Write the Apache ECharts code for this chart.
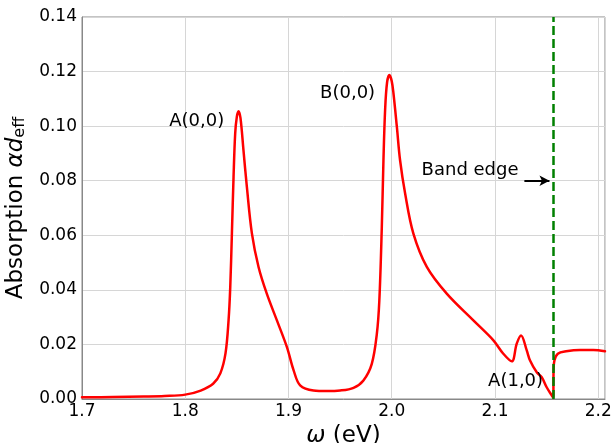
<!DOCTYPE html>
<html>
<head>
<meta charset="utf-8">
<script src="https://cdn.jsdelivr.net/npm/echarts@6/dist/echarts.min.js"></script>
<style>
  html, body { margin: 0; padding: 0; background: #fff; }
  #chart { width: 614px; height: 443px; }
</style>
</head>
<body>
<div id="chart"></div>
<script>
// ---- Data ----
const omega = [1.700, 1.730, 1.760, 1.780, 1.800, 1.815, 1.827, 1.834, 1.839, 1.842,
  1.8436, 1.8452, 1.8468, 1.8484, 1.8500, 1.8516, 1.8535, 1.8564, 1.8597, 1.8646,
  1.871, 1.879, 1.8888, 1.8985, 1.905, 1.9113, 1.9242, 1.937, 1.950, 1.963,
  1.9726, 1.9807, 1.9856, 1.988, 1.9904, 1.992, 1.9936, 1.9955, 1.9978, 2.0000,
  2.0017, 2.005, 2.0081, 2.013, 2.021, 2.034, 2.0533, 2.0791, 2.0985, 2.1081,
  2.1163, 2.1211, 2.1253, 2.1308, 2.134, 2.1405, 2.1453, 2.1501, 2.155, 2.1565,
  2.1568, 2.1576, 2.1609, 2.169, 2.1824, 2.1953, 2.2066];
const absorption = [0.0006, 0.0007, 0.0009, 0.0011, 0.0016, 0.0031, 0.0056, 0.0094, 0.0167, 0.029,
  0.041, 0.0607, 0.0814, 0.0974, 0.1035, 0.1055, 0.1030, 0.0912, 0.0777, 0.0606,
  0.0484, 0.0386, 0.0288, 0.019, 0.0105, 0.005, 0.0031, 0.0029, 0.0031, 0.0041,
  0.0068, 0.0129, 0.0239, 0.036, 0.063, 0.0875, 0.1059, 0.1160, 0.1187, 0.1165,
  0.112, 0.0997, 0.0875, 0.0753, 0.0606, 0.0484, 0.0386, 0.0288, 0.0215, 0.0166,
  0.0138, 0.0203, 0.0233, 0.0178, 0.0141, 0.0098, 0.008, 0.0043, 0.0013, 0.0004,
  0.0105, 0.0141, 0.0166, 0.0175, 0.018, 0.018, 0.0175];

const bandEdge = 2.1565;
const annotationTexts = ['A(0,0)', 'B(0,0)', 'Band edge', 'A(1,0)'];
const annotationX = [1.8111, 1.9573, 2.0759, 2.1200];
const annotationY = [0.1018, 0.1121, 0.0839, 0.0064];
const arrowFrom = [2.1285, 0.0800];
const arrowTo = [2.1528, 0.0800];

const xTicks = [1.7, 1.8, 1.9, 2.0, 2.1, 2.2];
const yTicks = [0.00, 0.02, 0.04, 0.06, 0.08, 0.10, 0.12, 0.14];

// ---- Build ----
const lineData = omega.map((x, i) => [x, absorption[i]]);

const FONT = 'DejaVu Sans';
const chart = echarts.init(document.getElementById('chart'), null, { renderer: 'canvas' });

chart.setOption({
  animation: false,
  backgroundColor: '#ffffff',
  textStyle: { fontFamily: FONT },
  grid: { left: 82, right: 9, top: 17, bottom: 44, containLabel: false,
          outerBoundsMode: 'none',
          show: true, borderColor: '#888', borderWidth: 1 },
  xAxis: {
    type: 'value',
    min: xTicks[0],
    max: 2.2066,
    interval: 0.1,
    name: '{i|ω} (eV)',
    nameLocation: 'middle',
    nameGap: 22,
    nameTextStyle: { fontFamily: FONT, fontSize: 23, color: '#000',
      rich: { i: { fontFamily: FONT, fontStyle: 'italic', fontSize: 23, color: '#000' } } },
    axisLine: { show: true, lineStyle: { color: '#888', width: 1 } },
    axisTick: { show: false },
    axisLabel: { fontFamily: FONT, fontSize: 17, color: '#000', margin: 4,
      formatter: v => v.toFixed(1) },
    splitLine: { show: true, lineStyle: { color: '#d6d6d6', width: 1 } }
  },
  yAxis: {
    type: 'value',
    min: yTicks[0],
    max: yTicks[yTicks.length - 1],
    interval: 0.02,
    name: '{n|Absorption }{i|αd}{s|eff}',
    nameLocation: 'middle',
    nameGap: 48,
    nameTextStyle: { fontFamily: FONT, fontSize: 23, color: '#000',
      rich: {
        n: { fontFamily: FONT, fontSize: 23, color: '#000' },
        i: { fontFamily: FONT, fontStyle: 'italic', fontSize: 23, color: '#000' },
        s: { fontFamily: FONT, fontSize: 16, color: '#000', padding: [8, 0, 0, 0] }
      } },
    axisLine: { show: true, lineStyle: { color: '#888', width: 1 } },
    axisTick: { show: false },
    axisLabel: { fontFamily: FONT, fontSize: 17, color: '#000', margin: 5,
      formatter: v => v.toFixed(2) },
    splitLine: { show: true, lineStyle: { color: '#d6d6d6', width: 1 } }
  },
  series: [
    {
      name: 'absorption',
      type: 'line',
      data: lineData,
      showSymbol: false,
      smooth: 0.35,
      lineStyle: { color: '#ff0000', width: 2.5, join: 'round', cap: 'round' },
      z: 3
    },
    {
      name: 'bandEdge',
      type: 'line',
      data: [],
      z: 5,
      markLine: {
        silent: true,
        symbol: ['none', 'none'],
        label: { show: false },
        lineStyle: { color: '#008000', width: 2.5, type: [9, 4] },
        data: [[{ coord: [bandEdge, yTicks[0]] }, { coord: [bandEdge, yTicks[yTicks.length - 1]] }]]
      }
    },
    {
      name: 'arrow',
      type: 'line',
      data: [],
      z: 6,
      markLine: {
        silent: true,
        symbol: ['none', 'arrow'],
        symbolSize: [8, 10],
        label: { show: false },
        lineStyle: { color: '#000', width: 2, type: 'solid' },
        data: [[{ coord: arrowFrom }, { coord: arrowTo }]]
      }
    }
  ]
});

// annotation texts placed at data coordinates through the chart's own scales
const texts = annotationTexts.map((t, i) => {
  const p = chart.convertToPixel({ gridIndex: 0 }, [annotationX[i], annotationY[i]]);
  return {
    type: 'text', x: p[0], y: p[1], z: 100,
    style: { text: t, fill: '#000', font: '18px "DejaVu Sans"', align: 'center', verticalAlign: 'middle' }
  };
});
chart.setOption({ graphic: texts });
</script>
</body>
</html>
